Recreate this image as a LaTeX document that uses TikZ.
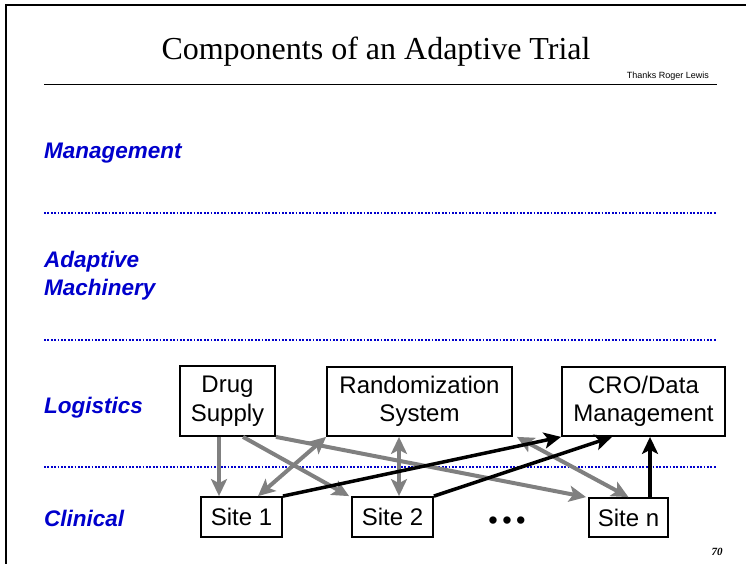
\documentclass[tikz,border=0pt]{standalone}
\usepackage{fontspec}
\setmainfont{Liberation Sans}
\newfontfamily\titlefont{Liberation Serif}
\usepackage{tikz}
\usetikzlibrary{positioning,arrows.meta,calc}
\definecolor{labblue}{RGB}{0,0,204}
\definecolor{arrgray}{RGB}{128,128,128}

\begin{document}
\begin{tikzpicture}[x=1pt,y=-1pt,
  box/.style={draw,line width=1.8pt,align=center,inner sep=0pt,font=\fontsize{24}{28.5}\selectfont},
  lab/.style={anchor=west,inner sep=0pt,align=left,text=labblue,font=\fontsize{22.5}{28}\selectfont\bfseries\itshape},
  sep/.style={draw=labblue,line width=1.8pt,dash pattern=on 1.8pt off 1.6pt},
  garr/.style={-{Stealth[length=17pt,width=16pt,inset=4pt]},draw=arrgray,line width=4pt},
  gdbl/.style={{Stealth[length=17pt,width=16pt,inset=4pt]}-{Stealth[length=17pt,width=16pt,inset=4pt]},draw=arrgray,line width=4pt},
  barr/.style={-{Stealth[length=17pt,width=16pt,inset=4pt]},draw=black,line width=3.5pt},
]
  \useasboundingbox (0,0) rectangle (746,564);
  \draw[line width=2.5pt] (6,564) -- (6,5) -- (746,5);

  % heading
  \node[font=\titlefont\fontsize{32}{36}\selectfont,anchor=base,inner sep=0pt] (title) at (376,60) {Components of an Adaptive Trial};
  \node[font=\fontsize{9}{11}\selectfont,anchor=base east,inner sep=0pt] (thanks) at (709,79) {Thanks Roger Lewis};
  \draw[line width=1pt] (44,85) -- (717,85);

  % layers
  \node[lab] (mgmt) at (44,153) {Management};
  \node[lab] (mach) at (44,276) {Adaptive\\Machinery};
  \node[lab] (logi) at (44,408) {Logistics};
  \node[lab] (clin) at (44,518) {Clinical};
  \draw[sep] (44,213) -- (717,213);
  \draw[sep] (44,340) -- (717,340);
  \draw[sep] (44,467) -- (717,467);

  % boxes
  \node[box,minimum width=95pt,minimum height=70pt] (drug) at (227.5,401) {Drug\\Supply};
  \node[box,minimum width=185pt,minimum height=69pt] (rand) at (419.5,401.5) {Randomization\\System};
  \node[box,minimum width=163pt,minimum height=69pt] (cro) at (643.5,401.5) {CRO/Data\\Management};
  \node[box,minimum width=81pt,minimum height=40pt] (site1) at (241.5,517) {Site 1};
  \node[box,minimum width=81pt,minimum height=40pt] (site2) at (392.5,517) {Site 2};
  \node[box,minimum width=79pt,minimum height=39pt] (siten) at (628.5,517.5) {Site n};
  \node[font=\fontsize{27}{28}\selectfont,inner sep=0pt] (dots) at (507,523) {•\,•\,•};
  \node[font=\titlefont\bfseries\itshape\fontsize{11}{12}\selectfont,inner sep=0pt] (pageno) at (717,552) {70};

  % gray links
  \draw[garr] ([xshift=-8.5pt]drug.south) -- ([xshift=-8.5pt]drug.south |- site1.north);
  \draw[garr] ([xshift=15.5pt]drug.south) -- ([xshift=-2pt]site2.north west);
  \draw[garr] (drug.south east) -- ([xshift=-2pt]siten.north west);
  \draw[gdbl] ([xshift=16.5pt]site1.north) -- (rand.south west);
  \draw[gdbl] ([xshift=6.5pt]site2.north) -- ([xshift=6.5pt]site2.north |- rand.south);
  \draw[gdbl] ([xshift=4pt]rand.south east) -- (siten.north);

  % black links
  \draw[barr] (site1.north east) -- (cro.south west);
  \draw[barr] (site2.north east) -- ([xshift=-31.5pt]cro.south);
  \draw[barr] ([xshift=21.5pt]siten.north) -- ([xshift=21.5pt]siten.north |- cro.south);
\end{tikzpicture}
\end{document}
